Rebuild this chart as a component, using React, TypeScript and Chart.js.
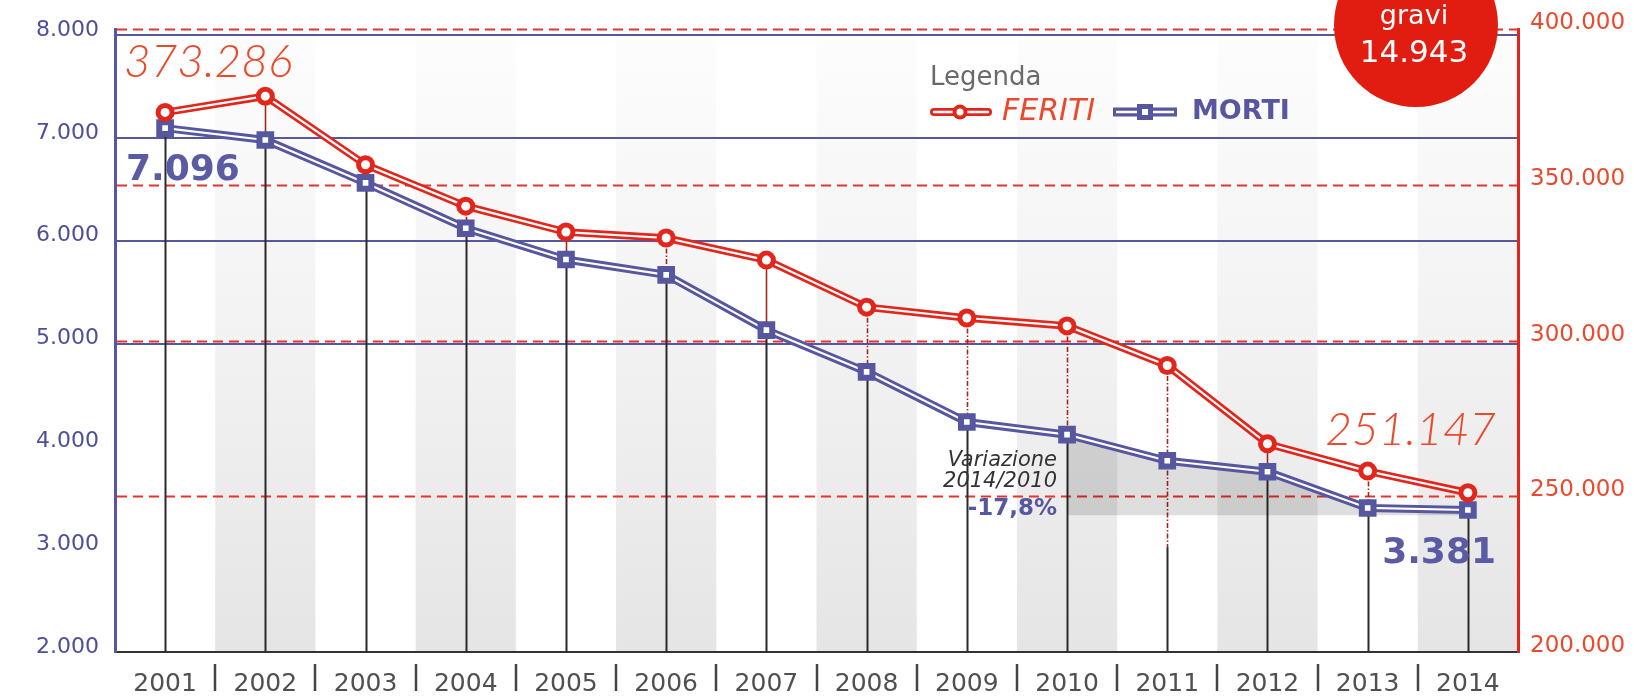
import React, { useEffect, useRef } from "react";
import { Chart, registerables } from "chart.js";

Chart.register(...registerables);

// ---------- data ----------
const years = ["2001", "2002", "2003", "2004", "2005", "2006", "2007", "2008", "2009", "2010", "2011", "2012", "2013", "2014"];
const feriti = [373286, 378492, 356475, 343179, 334858, 332955, 325850, 310745, 307258, 304720, 292019, 266864, 258093, 251147];
const morti = [7096, 6980, 6563, 6122, 5818, 5669, 5131, 4725, 4237, 4114, 3860, 3753, 3401, 3381];
const mortiTicks = [2000, 3000, 4000, 5000, 6000, 7000, 8000];
const feritiTicks = [200000, 250000, 300000, 350000, 400000];
const feritiGravi = 14943;
const variazioneFrom = 9; // index of 2010
const variazioneTo = 13; // index of 2014
const variazioneBase = 3330;

// ---------- style ----------
const FONT = "'DejaVu Sans'";
const LIGHT_FONT = "Lato, 'DejaVu Sans'";
const BLUE = "#56579f";
const BLUE_TXT = "#4d4e9c";
const RED = "#e3261b";
const RED_TXT = "#ea4a2b";
const DARK_RED = "#a3281c";

const fmt = (v: number) => String(Math.round(v)).replace(/\B(?=(\d{3})+(?!\d))/g, ".");

export default function App() {
  const ref = useRef<HTMLCanvasElement | null>(null);

  useEffect(() => {
    document.body.style.margin = "0";
    const canvas = ref.current!;

    const shade = morti.map((v, i) => (i >= variazioneFrom && i <= variazioneTo ? v : null));
    const variazionePct = ((morti[variazioneTo] - morti[variazioneFrom]) / morti[variazioneFrom]) * 100;

    const overlay = {
      id: "overlay",
      beforeDraw(chart: any) {
        const { ctx, chartArea: a, scales } = chart;
        const x = scales.x;
        const w = (a.right - a.left) / years.length;
        const g = ctx.createLinearGradient(0, a.top, 0, a.bottom);
        g.addColorStop(0, "#fdfdfd");
        g.addColorStop(0.5, "#f2f2f2");
        g.addColorStop(1, "#e5e5e5");
        ctx.save();
        ctx.fillStyle = g;
        years.forEach((_, i) => {
          if (i % 2 === 1) {
            const cx = x.getPixelForValue(i);
            ctx.fillRect(cx - w / 2, a.top, w, a.bottom - a.top);
          }
        });
        ctx.restore();
      },
      beforeDatasetsDraw(chart: any) {
        const { ctx, chartArea: a, scales } = chart;
        const { x, y, y1 } = scales;
        ctx.save();
        // red dashed reference lines (right axis)
        ctx.strokeStyle = "#e8322a";
        ctx.lineWidth = 2;
        ctx.setLineDash([10, 6]);
        feritiTicks.forEach((v) => {
          if (v === 200000) return;
          const py = Math.round(y1.getPixelForValue(v)) + 0.5;
          ctx.beginPath();
          ctx.moveTo(a.left + 2, py);
          ctx.lineTo(a.right, py);
          ctx.stroke();
        });
        // drop lines
        years.forEach((_, i) => {
          const px = Math.round(x.getPixelForValue(i)) + 0.5;
          const my = y.getPixelForValue(morti[i]);
          const fy = y1.getPixelForValue(feriti[i]);
          let blackStart = my;
          if (fy < my) {
            let redEnd = my;
            if (i === 10) redEnd = y.getPixelForValue(3020);
            ctx.strokeStyle = DARK_RED;
            ctx.lineWidth = 1.6;
            const solid = i === 1 || i === 4 || i === 6 || i === 11;
            ctx.setLineDash(solid ? [] : [5, 2, 1.5, 2]);
            ctx.beginPath();
            ctx.moveTo(px, fy);
            ctx.lineTo(px, redEnd);
            ctx.stroke();
            if (redEnd > my) blackStart = redEnd;
          }
          ctx.setLineDash([]);
          ctx.strokeStyle = "#2b2b2b";
          ctx.lineWidth = 2;
          ctx.beginPath();
          ctx.moveTo(px, blackStart);
          ctx.lineTo(px, a.bottom);
          ctx.stroke();
        });
        ctx.restore();
      },
      afterDraw(chart: any) {
        const { ctx, chartArea: a, scales } = chart;
        const { x } = scales;
        ctx.save();
        // separators between year labels
        ctx.strokeStyle = "#444";
        ctx.lineWidth = 2.5;
        for (let i = 1; i < years.length; i++) {
          const xb = Math.round((x.getPixelForValue(i - 1) + x.getPixelForValue(i)) / 2);
          ctx.beginPath();
          ctx.moveTo(xb, a.bottom + 12);
          ctx.lineTo(xb, a.bottom + 39);
          ctx.stroke();
        }

        // value annotations
        ctx.textBaseline = "alphabetic";
        ctx.fillStyle = RED_TXT;
        ctx.font = `italic 300 46px ${LIGHT_FONT}`;
        ctx.textAlign = "left";
        ctx.fillText(fmt(feriti[0]), 124, 77);
        ctx.textAlign = "right";
        ctx.fillText(fmt(feriti[feriti.length - 1]), 1496, 445);

        ctx.fillStyle = "#5a5ba2";
        ctx.font = `bold 36px ${FONT}`;
        ctx.textAlign = "left";
        ctx.fillText(fmt(morti[0]), 126, 180);
        ctx.textAlign = "right";
        ctx.fillText(fmt(morti[morti.length - 1]), 1496, 563);

        // variazione
        ctx.fillStyle = "#333";
        ctx.font = `italic 300 21px ${FONT}`;
        ctx.textAlign = "right";
        ctx.textBaseline = "middle";
        ctx.fillText("Variazione", 1057, 461);
        ctx.fillText("2014/2010", 1057, 482);
        ctx.fillStyle = BLUE;
        ctx.font = `bold 23px ${FONT}`;
        ctx.fillText(variazionePct.toFixed(1).replace(".", ",") + "%", 1057, 509);

        // legend
        ctx.textAlign = "left";
        ctx.fillStyle = "#6a6a6a";
        ctx.font = `normal 26px ${FONT}`;
        ctx.fillText("Legenda", 930, 78);
        // feriti marker
        ctx.lineCap = "round";
        ctx.strokeStyle = RED;
        ctx.lineWidth = 8;
        ctx.beginPath(); ctx.moveTo(934, 112); ctx.lineTo(988, 112); ctx.stroke();
        ctx.strokeStyle = "#fff";
        ctx.lineWidth = 2.4;
        ctx.beginPath(); ctx.moveTo(934, 112); ctx.lineTo(988, 112); ctx.stroke();
        ctx.fillStyle = RED;
        ctx.beginPath(); ctx.arc(960, 112, 7.5, 0, Math.PI * 2); ctx.fill();
        ctx.fillStyle = "#fff";
        ctx.beginPath(); ctx.arc(960, 112, 3.5, 0, Math.PI * 2); ctx.fill();
        ctx.fillStyle = RED_TXT;
        ctx.font = `italic normal 30px ${FONT}`;
        ctx.fillText("FERITI", 1002, 112);
        // morti marker
        ctx.lineCap = "butt";
        ctx.strokeStyle = BLUE;
        ctx.lineWidth = 9;
        ctx.beginPath(); ctx.moveTo(1113, 112); ctx.lineTo(1177, 112); ctx.stroke();
        ctx.strokeStyle = "#fff";
        ctx.lineWidth = 2.4;
        ctx.beginPath(); ctx.moveTo(1116, 112); ctx.lineTo(1174, 112); ctx.stroke();
        ctx.fillStyle = BLUE;
        ctx.fillRect(1137, 104, 16, 16);
        ctx.fillStyle = "#fff";
        ctx.fillRect(1142, 109, 6, 6);
        ctx.fillStyle = BLUE;
        ctx.font = `bold 27px ${FONT}`;
        ctx.fillText("MORTI", 1192, 112);

        // bubble
        ctx.fillStyle = "#e11d12";
        ctx.beginPath(); ctx.arc(1416, 25, 82, 0, Math.PI * 2); ctx.fill();
        ctx.fillStyle = "#fff";
        ctx.textAlign = "center";
        ctx.font = `normal 27px ${FONT}`;
        ctx.fillText("gravi", 1414, 17);
        ctx.font = `normal 31px ${FONT}`;
        ctx.fillText(fmt(feritiGravi), 1414, 54);
        ctx.restore();
      },
    };

    const chart = new Chart(canvas, {
      type: "line",
      data: {
        labels: years,
        datasets: [
          {
            label: "variazione",
            data: shade,
            yAxisID: "y",
            borderWidth: 0,
            borderColor: "rgba(0,0,0,0)",
            pointRadius: 0,
            fill: { value: variazioneBase },
            backgroundColor: "rgba(0,0,0,0.13)",
            order: 30,
          },
          {
            label: "MORTI",
            data: morti,
            yAxisID: "y",
            borderColor: BLUE,
            borderWidth: 8,
            pointRadius: 0,
            fill: false,
            order: 28,
          },
          {
            label: "morti-inner",
            data: morti,
            yAxisID: "y",
            borderColor: "#ffffff",
            borderWidth: 2.2,
            pointRadius: 0,
            fill: false,
            order: 27,
          },
          {
            label: "morti-pts",
            data: morti,
            yAxisID: "y",
            showLine: false,
            pointStyle: "rect",
            pointRadius: 12.5,
            pointBorderWidth: 0,
            pointBackgroundColor: BLUE,
            order: 26,
          },
          {
            label: "morti-pts-inner",
            data: morti,
            yAxisID: "y",
            showLine: false,
            pointStyle: "rect",
            pointRadius: 4,
            pointBorderWidth: 0,
            pointBackgroundColor: "#ffffff",
            order: 25,
          },
          {
            label: "FERITI",
            data: feriti,
            yAxisID: "y1",
            borderColor: RED,
            borderWidth: 7.5,
            pointRadius: 0,
            fill: false,
            order: 24,
          },
          {
            label: "feriti-inner",
            data: feriti,
            yAxisID: "y1",
            borderColor: "#ffffff",
            borderWidth: 2.2,
            pointRadius: 0,
            fill: false,
            order: 23,
          },
          {
            label: "feriti-pts",
            data: feriti,
            yAxisID: "y1",
            showLine: false,
            pointStyle: "circle",
            pointRadius: 9.5,
            pointBorderWidth: 0,
            pointBackgroundColor: RED,
            order: 22,
          },
          {
            label: "feriti-pts-inner",
            data: feriti,
            yAxisID: "y1",
            showLine: false,
            pointStyle: "circle",
            pointRadius: 4.5,
            pointBorderWidth: 0,
            pointBackgroundColor: "#ffffff",
            order: 21,
          },
        ],
      },
      options: {
        responsive: false,
        animation: false,
        devicePixelRatio: 1,
        layout: { padding: { top: 29, left: 0, right: 0, bottom: 0 } },
        elements: { line: { tension: 0 } },
        plugins: { legend: { display: false }, tooltip: { enabled: false } },
        scales: {
          x: {
            type: "category",
            offset: true,
            grid: { display: false, drawTicks: false },
            border: { display: true, color: "#333", width: 2 },
            ticks: {
              color: "#505050",
              font: { family: "DejaVu Sans", size: 25 },
              padding: 17,
              autoSkip: false,
              maxRotation: 0,
            },
            afterFit: (s: any) => {
              s.height = 46;
            },
          },
          y: {
            position: "left",
            min: 2000,
            max: 8058,
            afterBuildTicks: (s: any) => {
              s.ticks = mortiTicks.map((v) => ({ value: v }));
            },
            afterFit: (s: any) => {
              s.width = 115;
            },
            grid: {
              color: (c: any) => (c.tick && c.tick.value >= 5000 ? BLUE : "rgba(0,0,0,0)"),
              lineWidth: 2,
              drawTicks: false,
            },
            border: { display: true, color: BLUE, width: 3 },
            ticks: {
              color: BLUE_TXT,
              font: { family: "DejaVu Sans", size: 22 },
              padding: 16,
              labelOffset: -5,
              callback: (v: any) => fmt(Number(v)),
            },
          },
          y1: {
            position: "right",
            min: 200000,
            max: 400000,
            afterBuildTicks: (s: any) => {
              s.ticks = feritiTicks.map((v) => ({ value: v }));
            },
            afterFit: (s: any) => {
              s.width = 116;
            },
            grid: { display: false, drawTicks: false },
            border: { display: true, color: RED, width: 3 },
            ticks: {
              color: RED_TXT,
              font: { family: "DejaVu Sans", size: 23 },
              padding: 12,
              labelOffset: -6,
              callback: (v: any) => fmt(Number(v)),
            },
          },
        },
      },
      plugins: [overlay],
    } as any);

    return () => chart.destroy();
  }, []);

  return <canvas ref={ref} width={1634} height={698} style={{ display: "block" }} />;
}
